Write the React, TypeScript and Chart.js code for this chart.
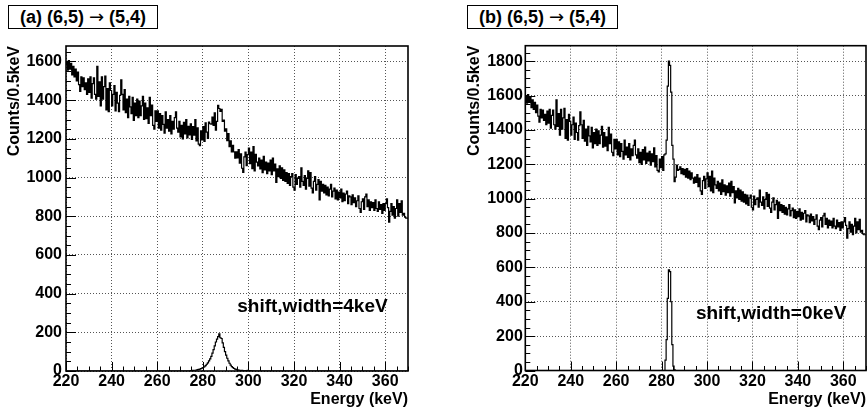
import React, { useEffect, useRef } from "react";
import { Chart, registerables } from "chart.js";

Chart.register(...registerables);

const FONT_FAMILY = '"Liberation Sans", Arial, Helvetica, sans-serif';

// Histogram binning (0.5 keV bins from 220 to 370 keV)
const BIN_START = 220;
const BIN_WIDTH = 0.5;
const X_MIN = 220;
const X_MAX = 370;

const xTickValues = [220, 240, 260, 280, 300, 320, 340, 360];
const yTickValuesA = [0, 200, 400, 600, 800, 1000, 1200, 1400, 1600];
const yTickValuesB = [0, 200, 400, 600, 800, 1000, 1200, 1400, 1600, 1800];

// Background counts per 0.5 keV bin (300 bins)
const background = [
  1580, 1600, 1555, 1605, 1560, 1590, 1530, 1575, 1520, 1560,
  1500, 1545, 1480, 1445, 1520, 1470, 1515, 1455, 1490, 1430,
  1510, 1440, 1520, 1410, 1485, 1515, 1430, 1405, 1575, 1420,
  1495, 1370, 1520, 1405, 1470, 1525, 1350, 1460, 1340, 1490,
  1450, 1370, 1430, 1475, 1345, 1440, 1385, 1340, 1425, 1505,
  1430, 1350, 1455, 1335, 1405, 1310, 1420, 1365, 1330, 1415,
  1295, 1385, 1320, 1405, 1310, 1395, 1320, 1370, 1420, 1300,
  1385, 1305, 1360, 1280, 1415, 1320, 1375, 1270, 1250, 1345,
  1290, 1345, 1255, 1330, 1245, 1320, 1275, 1230, 1340, 1255,
  1300, 1240, 1320, 1225, 1290, 1250, 1310, 1340, 1255, 1235,
  1290, 1210, 1270, 1200, 1285, 1225, 1300, 1205, 1265, 1220,
  1275, 1195, 1260, 1215, 1295, 1185, 1250, 1165, 1155, 1230,
  1180, 1245, 1165, 1255, 1200, 1160, 1235, 1215, 1200, 1220,
  1160, 1205, 1095, 1125, 1195, 1165, 1170, 1185, 1145, 1175,
  1140, 1170, 1125, 1175, 1120, 1160, 1110, 1150, 1120, 1090,
  1125, 1095, 1140, 1070, 1120, 1045, 1025, 1105, 1130, 1060,
  1115, 1150, 1070, 1130, 1045, 1160, 1035, 1120, 1080, 1060,
  1100, 1045, 1090, 1025, 1110, 1040, 1080, 1020, 1075, 1035,
  1090, 1015, 1100, 1035, 1070, 975, 1045, 1005, 1060, 995,
  1050, 985, 1040, 980, 1025, 970, 1020, 960, 1005, 1020,
  950, 935, 1015, 965, 995, 1005, 950, 1050, 980, 960,
  1010, 940, 995, 1035, 955, 1025, 945, 920, 980, 1005,
  935, 965, 990, 885, 980, 930, 965, 920, 960, 910,
  950, 905, 940, 965, 900, 930, 945, 890, 935, 885,
  925, 895, 940, 875, 920, 880, 915, 930, 865, 905,
  900, 860, 910, 870, 895, 850, 880, 905, 840, 820,
  875, 890, 835, 900, 915, 850, 885, 830, 875, 845,
  870, 830, 885, 840, 825, 875, 835, 860, 815, 865,
  830, 865, 890, 845, 770, 825, 865, 805, 850, 790,
  840, 885, 800, 865, 820, 880, 805, 815, 795, 790,
];

// Peak (a): shift,width = 4 keV — starts at bin 110 (275.0 keV)
const peakAStartBin = 110;
const peakAValues = [
  2, 2, 3, 4, 4, 5, 7, 8, 10, 12,
  15, 18, 22, 28, 35, 42, 52, 63, 76, 92,
  110, 130, 150, 165, 178, 192, 172, 168, 145, 122,
  100, 82, 66, 52, 40, 30, 23, 17, 13, 10,
  8, 6, 5, 4, 3, 3, 2, 2, 2, 2,
  3, 2, 2, 1, 1,
];

// Peak (b): shift,width = 0 keV — starts at bin 124 (282.0 keV)
const peakBStartBin = 124;
const peakBValues = [60, 180, 420, 585, 575, 400, 150, 25, 4];

const panelTitleA = ["(a) (6,5) ", "\u2192", " (5,4)"];
const panelTitleB = ["(b) (6,5) ", "\u2192", " (5,4)"];
const annotationA = "shift,width=4keV";
const annotationB = "shift,width=0keV";
const yMaxA = 1680;
const yMaxB = 1890;

function expandPeak(start: number, values: number[]): number[] {
  const arr = background.map(() => 0);
  values.forEach((v, i) => {
    arr[start + i] = v;
  });
  return arr;
}

function toSteps(values: number[]) {
  const pts = values.map((v, i) => ({ x: BIN_START + i * BIN_WIDTH, y: v }));
  pts.push({ x: BIN_START + values.length * BIN_WIDTH, y: values[values.length - 1] });
  return pts;
}

type PanelCfg = {
  upper: number[];
  lower: number[];
  yMax: number;
  yTicks: number[];
  label: string;
  labelPos: { x: number; y: number };
  padLeft: number;
  padRight: number;
  padTop: number;
  yAxisWidth: number;
  xAxisHeight: number;
  yTickPad: number;
};

const tickFont = { family: FONT_FAMILY, size: 16, weight: "bold" as const };

function buildChart(canvas: HTMLCanvasElement, cfg: PanelCfg) {
  const framePlugin = {
    id: "rootFrame",
    afterDatasetsDraw(chart: any) {
      const { ctx, chartArea: a, scales } = chart;
      const xs = scales.x;
      const ys = scales.y;
      ctx.save();
      ctx.strokeStyle = "#000";
      ctx.lineWidth = 1;
      for (let v = X_MIN; v <= X_MAX + 1e-6; v += 5) {
        const px = Math.round(xs.getPixelForValue(v)) + 0.5;
        const major = xTickValues.indexOf(v) >= 0;
        const len = major ? 9 : 4.5;
        ctx.beginPath();
        ctx.moveTo(px, a.bottom);
        ctx.lineTo(px, a.bottom - len);
        ctx.stroke();
      }
      for (let v = 0; v <= cfg.yMax + 1e-6; v += 50) {
        const py = Math.round(ys.getPixelForValue(v)) + 0.5;
        const major = cfg.yTicks.indexOf(v) >= 0;
        const len = major ? 10 : 5;
        ctx.beginPath();
        ctx.moveTo(a.left, py);
        ctx.lineTo(a.left + len, py);
        ctx.stroke();
      }
      ctx.lineWidth = 1.6;
      ctx.strokeRect(a.left, a.top, a.right - a.left, a.bottom - a.top);
      ctx.fillStyle = "#000";
      ctx.font = `bold 19px ${FONT_FAMILY}`;
      ctx.textAlign = "left";
      ctx.textBaseline = "alphabetic";
      ctx.fillText(cfg.label, xs.getPixelForValue(cfg.labelPos.x), ys.getPixelForValue(cfg.labelPos.y));
      ctx.restore();
    },
  };

  const lineStyle = {
    stepped: "after" as const,
    borderColor: "#000",
    borderWidth: 1.2,
    pointRadius: 0,
    fill: false,
  };

  return new Chart(canvas, {
    type: "line",
    data: {
      datasets: [
        { data: toSteps(cfg.upper), ...lineStyle },
        { data: toSteps(cfg.lower), ...lineStyle },
      ],
    },
    options: {
      responsive: false,
      animation: false,
      events: [],
      layout: { padding: { left: cfg.padLeft, right: cfg.padRight, top: cfg.padTop, bottom: 0 } },
      plugins: { legend: { display: false }, tooltip: { enabled: false }, title: { display: false } },
      scales: {
        x: {
          type: "linear",
          min: X_MIN,
          max: X_MAX,
          afterFit: (s: any) => {
            s.height = cfg.xAxisHeight;
          },
          afterBuildTicks: (s: any) => {
            s.ticks = xTickValues.map((v) => ({ value: v }));
          },
          grid: { color: "#555", lineWidth: 1, drawTicks: false },
          border: { display: false, dash: [1, 2] },
          ticks: {
            font: tickFont,
            color: "#000",
            padding: 1,
            maxRotation: 0,
            autoSkip: false,
            callback: (v: any) => String(v),
          },
          title: {
            display: true,
            text: "Energy (keV)",
            align: "end",
            color: "#000",
            font: tickFont,
            padding: { top: 0, bottom: 2.5 },
          },
        },
        y: {
          type: "linear",
          min: 0,
          max: cfg.yMax,
          afterFit: (s: any) => {
            s.width = cfg.yAxisWidth;
          },
          afterBuildTicks: (s: any) => {
            s.ticks = cfg.yTicks.map((v) => ({ value: v }));
          },
          grid: { color: "#555", lineWidth: 1, drawTicks: false },
          border: { display: false, dash: [1, 2] },
          ticks: {
            font: tickFont,
            color: "#000",
            padding: cfg.yTickPad,
            autoSkip: false,
            callback: (v: any) => String(v),
          },
          title: {
            display: true,
            text: "Counts/0.5keV",
            align: "end",
            color: "#000",
            font: tickFont,
            padding: { top: 0, bottom: 0 },
          },
        },
      },
    },
    plugins: [framePlugin],
  } as any);
}

function Panel(props: { cfg: PanelCfg; left: number; width: number }) {
  const ref = useRef<HTMLCanvasElement | null>(null);
  useEffect(() => {
    if (!ref.current) return;
    const chart = buildChart(ref.current, props.cfg);
    return () => chart.destroy();
  }, []);
  return (
    <div style={{ position: "absolute", left: props.left, top: 0, width: props.width, height: 412 }}>
      <canvas ref={ref} width={props.width} height={412} style={{ width: props.width, height: 412, display: "block" }} />
    </div>
  );
}

const titleBoxStyle: React.CSSProperties = {
  position: "absolute",
  top: 5,
  height: 24,
  border: "1px solid #000",
  boxSizing: "border-box",
  fontFamily: FONT_FAMILY,
  fontWeight: "bold",
  fontSize: 18,
  lineHeight: "22px",
  textAlign: "center",
  whiteSpace: "nowrap",
  background: "#fff",
  color: "#000",
};

const arrowStyle: React.CSSProperties = {
  fontFamily: '"DejaVu Sans", sans-serif',
  fontWeight: "normal",
  fontSize: 18,
};

export default function App() {
  const peakA = expandPeak(peakAStartBin, peakAValues);
  const peakB = expandPeak(peakBStartBin, peakBValues);
  const upperA = background.map((b, i) => b + peakA[i]);
  const upperB = background.map((b, i) => b + peakB[i]);

  const cfgA: PanelCfg = {
    upper: upperA,
    lower: peakA,
    yMax: yMaxA,
    yTicks: yTickValuesA,
    label: annotationA,
    labelPos: { x: 295.1, y: 306 },
    padLeft: 5.4,
    padRight: 26,
    padTop: 46,
    yAxisWidth: 60.6,
    xAxisHeight: 41,
    yTickPad: 4,
  };
  const cfgB: PanelCfg = {
    upper: upperB,
    lower: peakB,
    yMax: yMaxB,
    yTicks: yTickValuesB,
    label: annotationB,
    labelPos: { x: 295.1, y: 298 },
    padLeft: 31.3,
    padRight: 1,
    padTop: 45.7,
    yAxisWidth: 60,
    xAxisHeight: 41.5,
    yTickPad: 2.5,
  };

  return (
    <div style={{ position: "absolute", left: 0, top: 0, width: 867, height: 412, background: "#fff", overflow: "hidden" }}>
      <Panel cfg={cfgA} left={0} width={434} />
      <Panel cfg={cfgB} left={434} width={433} />
      <div style={{ ...titleBoxStyle, left: 8, width: 150 }}>
        {panelTitleA[0]}
        <span style={arrowStyle}>{panelTitleA[1]}</span>
        {panelTitleA[2]}
      </div>
      <div style={{ ...titleBoxStyle, left: 467, width: 151 }}>
        {panelTitleB[0]}
        <span style={arrowStyle}>{panelTitleB[1]}</span>
        {panelTitleB[2]}
      </div>
    </div>
  );
}
